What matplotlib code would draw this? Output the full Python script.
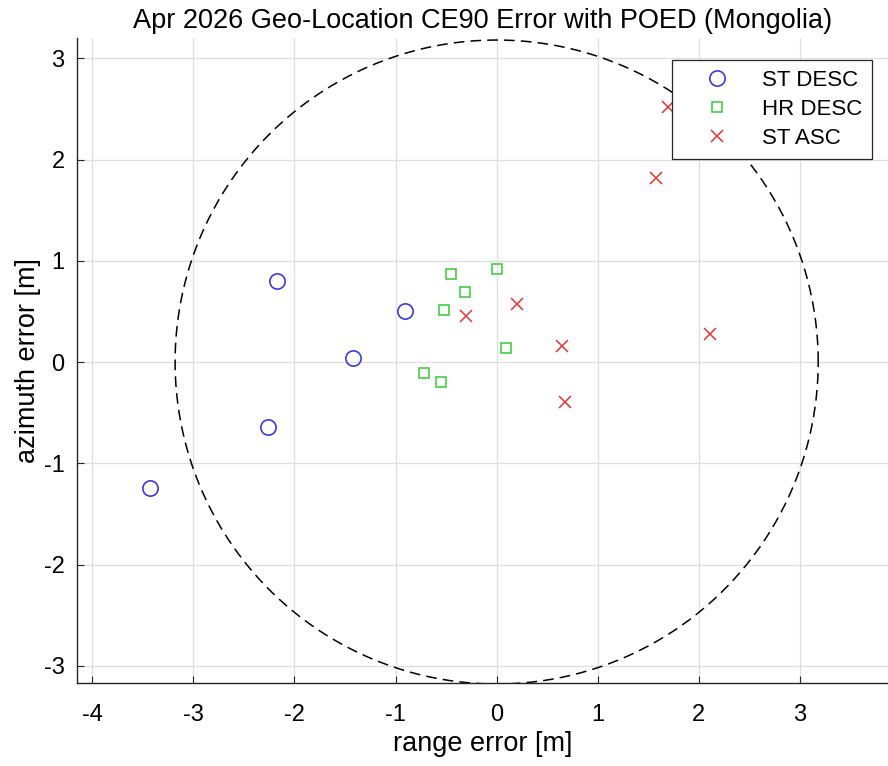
import matplotlib
matplotlib.use('Agg')
import matplotlib.pyplot as plt
import numpy as np

plt.rcParams['font.family'] = ['Liberation Sans', 'DejaVu Sans']
plt.rcParams['axes.unicode_minus'] = False

# ST DESC (blue circles)
st_desc_x = [-2.17, -0.91, -1.42, -2.26, -3.43]
st_desc_y = [0.80, 0.50, 0.04, -0.64, -1.24]

# HR DESC (green squares)
hr_desc_x = [-0.45, 0.00, -0.31, -0.52, 0.09, -0.72, -0.55]
hr_desc_y = [0.87, 0.92, 0.69, 0.51, 0.14, -0.11, -0.20]

# ST ASC (red crosses)
st_asc_x = [-0.30, 0.20, 0.65, 0.68, 2.11, 1.58, 1.69]
st_asc_y = [0.45, 0.57, 0.16, -0.39, 0.28, 1.82, 2.52]

ce90_radius = 3.18

fig = plt.figure(figsize=(8.88, 7.66), dpi=100)
ax = fig.add_axes([77/888, 83/766, 811/888, 645/766])

ax.plot(st_desc_x, st_desc_y, 'o', mfc='none', mec='#3b3bdc', ms=11, mew=1.2, label='ST DESC', zorder=3)
ax.plot(hr_desc_x, hr_desc_y, 's', mfc='none', mec='#33cc33', ms=7.3, mew=1.1, label='HR DESC', zorder=3)
ax.plot(st_asc_x, st_asc_y, 'x', color='#e23434', ms=8.5, mew=1.1, label='ST ASC', zorder=3)

# CE90 circle
t = np.linspace(0, 2 * np.pi, 400)
ax.plot(ce90_radius * np.cos(t), ce90_radius * np.sin(t), '--', color='black', lw=1.1, dashes=(7, 4), zorder=2)

ax.set_xlim(-4.15, 3.87)
ax.set_ylim(-3.17, 3.2)
ax.set_xticks(np.arange(-4, 4))
ax.set_yticks(np.arange(-3, 4))
ax.grid(True, color='#dedede', lw=0.9)
ax.set_axisbelow(True)
for s in ['top', 'right']:
    ax.spines[s].set_visible(False)
for s in ['left', 'bottom']:
    ax.spines[s].set_color('#262626')
    ax.spines[s].set_linewidth(1.0)
ax.tick_params(direction='in', length=5, width=0.8, labelsize=17, color='#262626')
ax.tick_params(axis='x', pad=15)
ax.tick_params(axis='y', pad=9)

ax.set_xlabel('range error [m]', fontsize=19.5, labelpad=4)
ax.set_ylabel('azimuth error [m]', fontsize=19.5, labelpad=2)
ax.set_title('Apr 2026 Geo-Location CE90 Error with POED (Mongolia)', fontsize=19.5, pad=7)

leg = ax.legend(loc='upper right', bbox_to_anchor=(795/811, 623/645), borderaxespad=0,
                fontsize=16, frameon=True, fancybox=False, edgecolor='#262626', framealpha=1,
                borderpad=0.45, handletextpad=0.4, handlelength=3.2, labelspacing=0.35)
leg.get_frame().set_linewidth(0.9)

fig.savefig('out.png', dpi=100)
